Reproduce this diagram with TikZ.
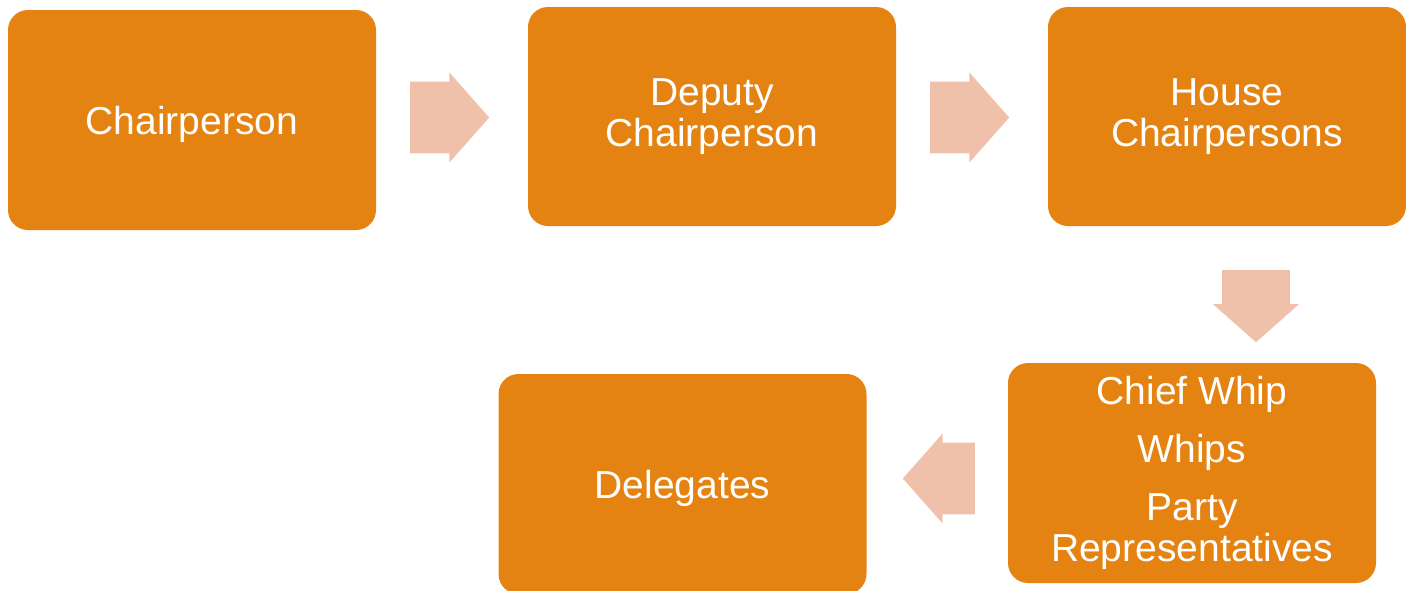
\documentclass[tikz,border=0pt]{standalone}
\usepackage{fontspec}
\setmainfont{Liberation Sans}
\usepackage{tikz}
\usetikzlibrary{shapes.arrows, positioning, calc}

\definecolor{boxorange}{RGB}{228,130,18}
\definecolor{arrowpeach}{RGB}{240,193,170}

\begin{document}
\begin{tikzpicture}[x=1pt, y=-1pt,
  rank/.style={fill=boxorange, rounded corners=20pt, minimum width=368pt,
    minimum height=220pt, inner sep=0pt, text=white, align=center,
    font=\fontsize{39}{41}\selectfont,
    execute at begin node={\rule{0pt}{36.5pt}}},
  flow/.style={single arrow, fill=arrowpeach, inner xsep=0pt, inner ysep=27.5pt,
    minimum width=90pt, minimum height=79pt, single arrow tip angle=97,
    anchor=tail}]
\useasboundingbox (0,0) rectangle (1406,590);
\clip (0,0) rectangle (1406,590);
% Cajas
\node[rank] (chair) at (192,120) {Chairperson};
\node[rank, minimum height=219pt] (deputy) at (712,116.5) {Deputy\\Chairperson};
\node[rank, minimum width=358pt, minimum height=219pt] (house) at (1227,116.5) {House\\Chairpersons};
\node[rank, execute at begin node={}] (whips) at (1192,473) {Chief Whip\\[17pt]Whips\\[17pt]Party\\Representatives};
\node[rank] (deleg) at (682.5,484) {Delegates};
% Flechas
\node[flow] (a1) at (410,117.5) {};
\node[flow] (a2) at (930,117.5) {};
\node[flow, rotate=-90, minimum height=72pt, inner ysep=26pt, minimum width=86pt] (a3) at (1256,270) {};
\node[flow, rotate=180, minimum height=72pt] (a4) at (975,478.5) {};
\end{tikzpicture}
\end{document}
